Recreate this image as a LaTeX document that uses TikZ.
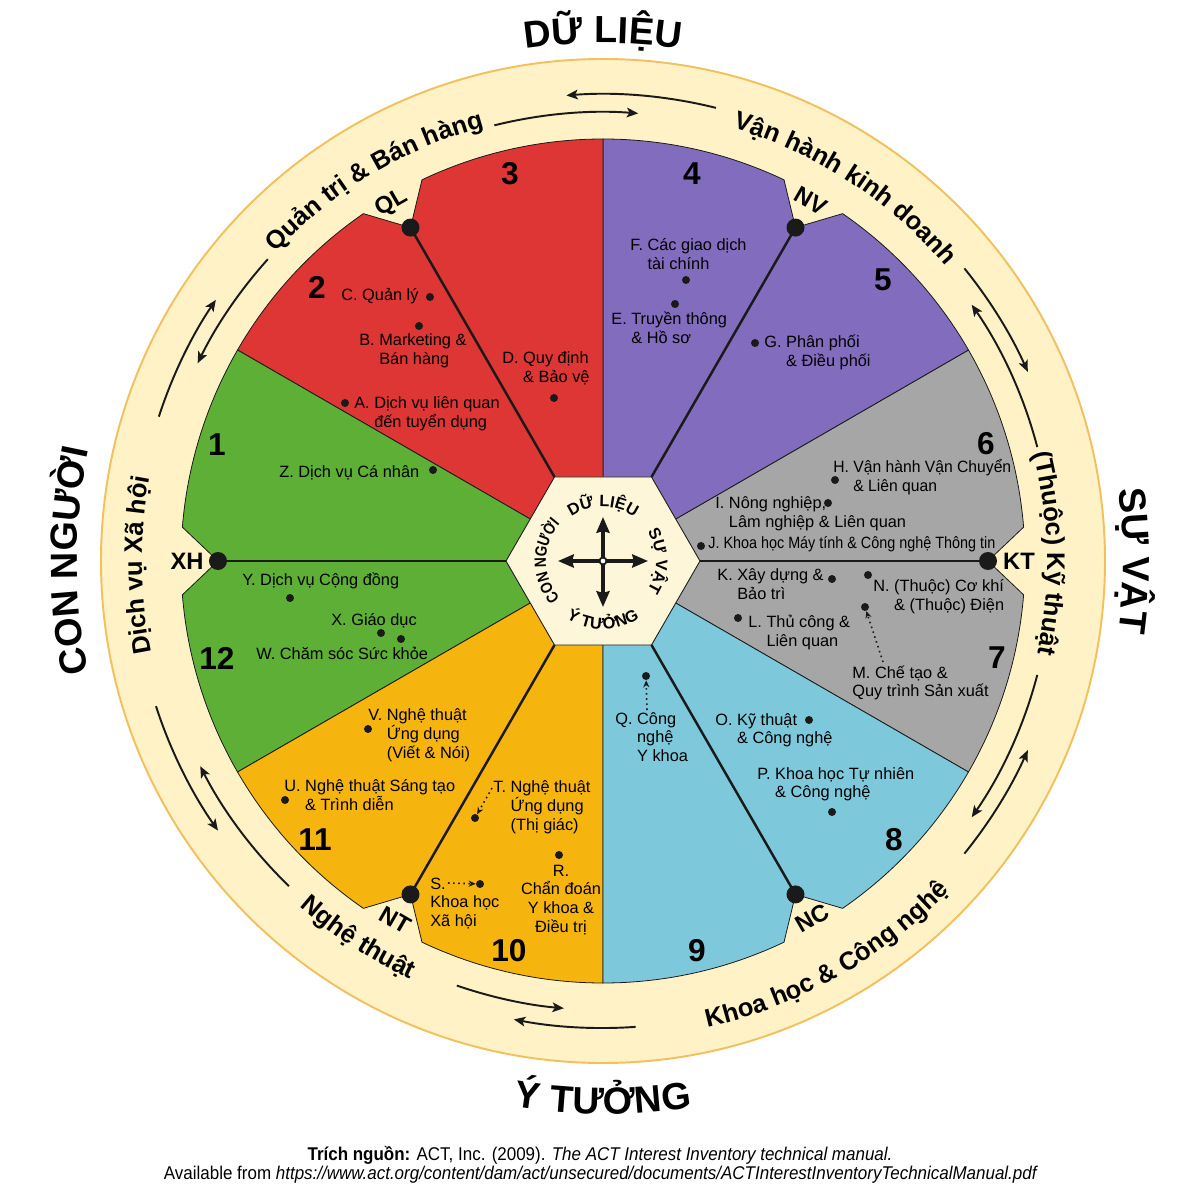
\documentclass[tikz,border=0pt]{standalone}
\usepackage{fontspec}
\usepackage{graphicx}
\setmainfont{Liberation Sans}
\newfontfamily\narrowfont{Liberation Sans}[FakeStretch=0.92]
\newfontfamily\condfont{Liberation Sans}[FakeStretch=0.84]
\usetikzlibrary{decorations.text,arrows.meta}
\definecolor{cream}{HTML}{FEF2C6}
\definecolor{ringedge}{HTML}{F2C05C}
\definecolor{hexfill}{HTML}{FEF6D8}
\definecolor{cred}{HTML}{DD3634}
\definecolor{cpurple}{HTML}{826CBD}
\definecolor{cgray}{HTML}{A6A6A6}
\definecolor{cblue}{HTML}{7DC8DA}
\definecolor{corange}{HTML}{F6B40F}
\definecolor{cgreen}{HTML}{5DAF35}
\definecolor{ink}{HTML}{1A1A1A}
\newcommand\itemfont{\fontsize{9.3}{10.8}\selectfont}
\newcommand\ringfont{\fontsize{14.5}{18}\selectfont\bfseries}
\newcommand\bigfont{\fontsize{21.5}{25}\selectfont\bfseries}
\newcommand\hexfont{\fontsize{9.3}{11}\selectfont\bfseries}
\newcommand\hexcond{\condfont\fontsize{9.3}{11}\selectfont\bfseries}
\newcommand\numfont{\fontsize{18}{20}\selectfont\bfseries}
\newcommand\notchfont{\fontsize{13.5}{15}\selectfont\bfseries}
\newcommand\hangit[2]{\begin{tabular}[t]{@{}l@{\ }l@{}}#1&#2\end{tabular}}
\newcommand\flushit[1]{\begin{tabular}[t]{@{}l@{}}#1\end{tabular}}
\newcommand\centit[1]{\begin{tabular}[t]{@{}c@{}}#1\end{tabular}}
\begin{document}
\begin{tikzpicture}[x=0.02cm,y=0.02cm,
  sector/.style={draw=ink, line width=0.45pt},
  spoke/.style={draw=ink, line width=1.4pt},
  bigdot/.style={circle, fill=ink, inner sep=0pt, minimum size=0.36cm},
  dot/.style={circle, fill=ink, inner sep=0pt, minimum size=0.16cm},
  itm/.style={anchor=base west, inner sep=0pt, font=\itemfont},
  itmc/.style={anchor=base, inner sep=0pt, font=\itemfont},
  num/.style={inner sep=0pt, font=\numfont},
  notch/.style={inner sep=0pt, font=\notchfont},
  ringarrow/.style={draw=ink, line width=1.1pt, -{Stealth[length=6.5pt,width=5.5pt,inset=1.5pt]}},
  dotarrow/.style={draw=ink, line width=0.9pt, dotted, -{Stealth[length=4pt,width=3.5pt]}},
  crossarrow/.style={draw=ink, line width=1.8pt, {Stealth[length=9pt,width=7.5pt,inset=1pt]}-{Stealth[length=9pt,width=7.5pt,inset=1pt]}},
  curved/.style n args={2}{decorate, decoration={text along path, text align=center, text={|#1|#2}}},
  px/.style={shift={(-603,561)}, yscale=-1}
]
\fill[white] (-603,-639) rectangle (597,561);
\useasboundingbox (-603,-639) rectangle (597,561);

% ring
\filldraw[fill=cream, draw=ringedge, line width=1.1pt] (0,0) circle (502);

% sectors
\foreach \a/\c in {0/cgray,60/cpurple,120/cred,180/cgreen,240/corange,300/cblue} {
  \filldraw[sector, fill=\c] (0,0) -- (\a:385) -- ({\a+4.6}:422)
     arc[start angle={\a+4.6}, end angle={\a+30}, radius=422] -- cycle;
  \filldraw[sector, fill=\c] (0,0) -- ({\a-30}:422)
     arc[start angle={\a-30}, end angle={\a-4.6}, radius=422] -- (\a:385) -- cycle;
}

% hexagon
\filldraw[fill=hexfill, draw=ink, line width=0.5pt] (0:97) -- (60:97) -- (120:97) -- (180:97) -- (240:97) -- (300:97) -- cycle;
\foreach \a in {0,60,...,300} { \coordinate (h\a) at (\a:97); }

% notch dots and spokes
\node[bigdot] (KTd) at (0:385) {};
\node[bigdot] (NVd) at (60:385) {};
\node[bigdot] (QLd) at (120:385) {};
\node[bigdot] (XHd) at (180:385) {};
\node[bigdot] (NTd) at (240:385) {};
\node[bigdot] (NCd) at (300:385) {};
\draw[spoke] (h0) -- (KTd.center);
\draw[spoke] (h60) -- (NVd.center);
\draw[spoke] (h120) -- (QLd.center);
\draw[spoke] (h180) -- (XHd.center);
\draw[spoke] (h240) -- (NTd.center);
\draw[spoke] (h300) -- (NCd.center);

\node[notch, rotate=30] (QL) at (-211,358) {QL};
\node[notch, rotate=-30] (NV) at (208,360) {NV};
\node[notch] (KT) at (416,0) {KT};
\node[notch, rotate=30] (NC) at (209,-357) {NC};
\node[notch, rotate=-30] (NT) at (-208,-359) {NT};
\node[notch] (XH) at (-416,0) {XH};

% center cross
\coordinate (cl) at (-45,0); \coordinate (cr) at (45,0);
\coordinate (ct) at (0,44); \coordinate (cb) at (0,-46);
\draw[crossarrow] (cl) -- (cr);
\draw[crossarrow] (cb) -- (ct);
\filldraw[fill=white, draw=ink, line width=1pt] (0,0) circle (3.5);

% ring arrows
\draw[ringarrow] (104:449) arc[start angle=104, end angle=85.5, radius=449];
\draw[ringarrow] (76:467) arc[start angle=76, end angle=94.5, radius=467];
\draw[ringarrow] (39:465) arc[start angle=39, end angle=24, radius=465];
\draw[ringarrow] (14.7:449) arc[start angle=14.7, end angle=34.8, radius=449];
\draw[ringarrow] (-14.7:449) arc[start angle=-14.7, end angle=-34.8, radius=449];
\draw[ringarrow] (-39:465) arc[start angle=-39, end angle=-24, radius=465];
\draw[ringarrow] (162:467) arc[start angle=162, end angle=146, radius=467];
\draw[ringarrow] (138:451) arc[start angle=138, end angle=154, radius=451];
\draw[ringarrow] (226:452) arc[start angle=226, end angle=207, radius=452];
\draw[ringarrow] (198:470) arc[start angle=198, end angle=215, radius=470];
\draw[ringarrow] (251:449) arc[start angle=251, end angle=265, radius=449];
\draw[ringarrow] (274:467) arc[start angle=274, end angle=259, radius=467];

% big outer labels
\path[curved={\bigfont}{DỮ LIỆU}] (150:518) arc[start angle=150, end angle=30, radius=518];
\path[curved={\bigfont}{SỰ VẬT}] (60:520) arc[start angle=60, end angle=-60, radius=520];
\path[curved={\bigfont}{Ý TƯỞNG}] (210:553) arc[start angle=210, end angle=330, radius=553];
\path[curved={\bigfont}{CON NGƯỜI}] (240:526) arc[start angle=240, end angle=120, radius=526];

% ring labels
\path[curved={\ringfont}{Quản trị {\&} Bán hàng}] (181:450) arc[start angle=181, end angle=61, radius=450];
\path[curved={\ringfont}{Vận hành kinh doanh}] (117:452) arc[start angle=117, end angle=-3, radius=452];
\path[curved={\ringfont}{(Thuộc) Kỹ thuật}] (61:444) arc[start angle=61, end angle=-59, radius=444];
\path[curved={\ringfont}{Dịch vụ Xã hội}] (240.5:461) arc[start angle=240.5, end angle=120.5, radius=461];
\path[curved={\ringfont}{Nghệ thuật}] (177:460) arc[start angle=177, end angle=297, radius=460];
\path[curved={\ringfont}{Khoa học {\&} Công nghệ}] (239.5:478) arc[start angle=239.5, end angle=359.5, radius=478];

% hexagon labels
\path[curved={\hexfont}{DỮ LIỆU}] (150:54) arc[start angle=150, end angle=30, radius=54];
\path[curved={\hexfont}{SỰ VẬT}] (60:53) arc[start angle=60, end angle=-60, radius=53];
\path[curved={\hexfont}{Ý TƯỞNG}] (200:68) arc[start angle=200, end angle=340, radius=68];
\path[curved={\hexcond}{CON NGƯỜI}] (250:57) arc[start angle=250, end angle=110, radius=57];

\begin{scope}[px]
% sector numbers
\node[num] (n1) at (217,445) {1};
\node[num] (n2) at (317,287) {2};
\node[num] (n3) at (510,174) {3};
\node[num] (n4) at (692,174) {4};
\node[num] (n5) at (883,280) {5};
\node[num] (n6) at (986,444) {6};
\node[num] (n7) at (997,658) {7};
\node[num] (n8) at (894,840) {8};
\node[num] (n9) at (697,951) {9};
\node[num] (n10) at (509,951) {10};
\node[num] (n11) at (315,840) {11};
\node[num] (n12) at (217,658) {12};

% item dots
\node[dot] (dC) at (430,297) {};
\node[dot] (dB) at (419,326) {};
\node[dot] (dA) at (345,403) {};
\node[dot] (dD) at (554,398) {};
\node[dot] (dZ) at (433,470) {};
\node[dot] (dF) at (686,280) {};
\node[dot] (dE) at (675,304) {};
\node[dot] (dG) at (755,343) {};
\node[dot] (dH) at (835,480) {};
\node[dot] (dI) at (828,503) {};
\node[dot] (dJ) at (701,546) {};
\node[dot] (dK) at (832,579) {};
\node[dot] (dN) at (868,575) {};
\node[dot] (dM) at (865,607) {};
\node[dot] (dL) at (738,618) {};
\node[dot] (dQ) at (646,676) {};
\node[dot] (dO) at (809,720) {};
\node[dot] (dP) at (832,812) {};
\node[dot] (dV) at (368,729) {};
\node[dot] (dU) at (285,800) {};
\node[dot] (dT) at (475,818) {};
\node[dot] (dR) at (559,855) {};
\node[dot] (dS) at (480,884) {};
\node[dot] (dY) at (290,598) {};
\node[dot] (dX) at (381,633) {};
\node[dot] (dW) at (401,639) {};

% item texts
\node[itm] (tC) at (341,301) {\hangit{C.}{Quản lý}};
\node[itm] (tB) at (359,346) {\hangit{B.}{Marketing \&\\&Bán hàng}};
\node[itm] (tA) at (354,409) {\hangit{A.}{Dịch vụ liên quan\\&đến tuyển dụng}};
\node[itm] (tD) at (502,364) {\hangit{D.}{Quy định\\&\& Bảo vệ}};
\node[itm] (tZ) at (279,478) {Z. Dịch vụ Cá nhân};
\node[itm] (tF) at (630,251) {\hangit{F.}{Các giao dịch\\&tài chính}};
\node[itm] (tE) at (611,325) {\hangit{E.}{Truyền thông\\&\& Hồ sơ}};
\node[itm] (tG) at (764,348) {\hangit{G.}{Phân phối\\&\& Điều phối}};
\node[itm] (tH) at (833,473) {\scalebox{0.96}[1]{\hangit{H.}{Vận hành Vận Chuyển\\&\& Liên quan}}};
\node[itm] (tI) at (715,509) {\hangit{I.}{Nông nghiệp,\\&Lâm nghiệp \& Liên quan}};
\node[itm] (tJ) at (708,549) {\scalebox{0.88}[1]{J. Khoa học Máy tính \& Công nghệ Thông tin}};
\node[itm] (tK) at (717,581) {\hangit{K.}{Xây dựng \&\\&Bảo trì}};
\node[itm] (tN) at (873,592) {\hangit{N.}{(Thuộc) Cơ khí\\&\& (Thuộc) Điện}};
\node[itm] (tM) at (852,678) {\flushit{M. Chế tạo \&\\Quy trình Sản xuất}};
\node[itm] (tL) at (748,628) {\hangit{L.}{Thủ công \&\\&Liên quan}};
\node[itm] (tQ) at (615,724) {\hangit{Q.}{Công\\&nghệ\\&Y khoa}};
\node[itm] (tO) at (715,725) {\hangit{O.}{Kỹ thuật\\&\& Công nghệ}};
\node[itm] (tP) at (757,779) {\hangit{P.}{Khoa học Tự nhiên\\&\& Công nghệ}};
\node[itm] (tV) at (368,720) {\hangit{V.}{Nghệ thuật\\&Ứng dụng\\&(Viết \& Nói)}};
\node[itm] (tU) at (284,791) {\hangit{U.}{Nghệ thuật Sáng tạo\\&\& Trình diễn}};
\node[itm] (tT) at (493,792) {\hangit{T.}{Nghệ thuật\\&Ứng dụng\\&(Thị giác)}};
\node[itmc] (tR) at (561,876) {\centit{R.\\Chẩn đoán\\Y khoa \&\\Điều trị}};
\node[itm] (tS) at (430,889) {\flushit{S.\\Khoa học\\Xã hội}};
\node[itm] (tY) at (242,586) {Y. Dịch vụ Cộng đồng};
\node[itm] (tX) at (331,626) {X. Giáo dục};
\node[itm] (tW) at (256,659) {W. Chăm sóc Sức khỏe};

% dotted pointers
\coordinate (aQ) at (647,710);
\coordinate (aM) at (883,662);
\coordinate (aT) at (492,788);
\coordinate (aS) at (448,883);
\draw[dotarrow] (aQ) -- (dQ);
\draw[dotarrow] (aM) -- (dM);
\draw[dotarrow] (aT) -- (dT);
\draw[dotarrow] (aS) -- (dS);

% citation
\node[inner sep=0pt, font=\narrowfont\fontsize{10.5}{12}\selectfont] (cite1) at (600,1155)
  {\textbf{Trích nguồn:} ACT, Inc. (2009). \textit{The ACT Interest Inventory technical manual.}};
\node[inner sep=0pt, font=\narrowfont\fontsize{10.5}{12}\selectfont] (cite2) at (601,1175)
  {Available from \textit{https://www.act.org/content/dam/act/unsecured/documents/ACTInterestInventoryTechnicalManual.pdf}};
\end{scope}
\end{tikzpicture}
\end{document}
